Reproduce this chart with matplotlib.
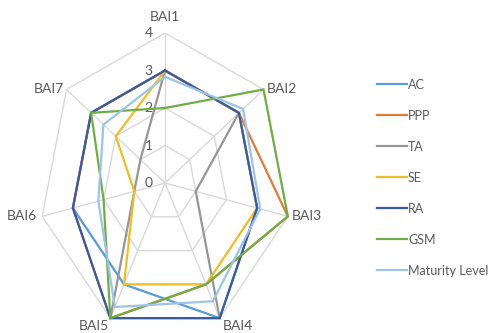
import matplotlib
matplotlib.use("Agg")
import matplotlib.pyplot as plt
import numpy as np

# assessment scores per BAI dimension (0-4 scale)
axes_labels = ["BAI1", "BAI2", "BAI3", "BAI4", "BAI5", "BAI6", "BAI7"]
series_names = ["AC", "PPP", "TA", "SE", "RA", "GSM", "Maturity Level"]
ac = [3, 3, 3, 4, 3, 3, 3]
ppp = [3, 3, 4, 3, 4, 3, 3]
ta = [3, 3, 1, 4, 4, 1, 1]
se = [3, 3, 3, 3, 3, 1, 2]
ra = [3, 3, 3, 4, 4, 3, 3]
gsm = [2, 4, 4, 3, 4, 2, 3]
maturity = [2.83, 3.17, 3.1, 3.5, 3.67, 2.17, 2.5]
ring_ticks = [0, 1, 2, 3, 4]

colors = ["#5B9BD5", "#E07B39", "#969696", "#EDBE2A", "#3A5AA0", "#70AD47", "#9DC3E6"]
grid_color = "#D9D9D9"
text_color = "#595959"
plt.rcParams["font.family"] = ["Lato", "DejaVu Sans"]


def main():
    n = len(axes_labels)
    theta = np.pi / 2 - np.arange(n) * 2 * np.pi / n
    closed = np.append(theta, theta[0])

    fig = plt.figure(figsize=(4.92, 3.33), dpi=100)
    ax = fig.add_axes([0.0793, 0.0, 0.5122, 0.9009], projection="polar")
    ax.set_aspect("auto")
    ax.set_ylim(0, 4)
    ax.grid(False)
    ax.spines["polar"].set_visible(False)
    ax.set_xticks([])
    ax.set_yticks([])
    ax.patch.set_alpha(0)

    # heptagon rings and spokes
    for r in ring_ticks[1:]:
        ax.plot(closed, [r] * (n + 1), color=grid_color, lw=1.0, zorder=1)
    for t in theta:
        ax.plot([t, t], [0, 4], color=grid_color, lw=1.0, zorder=1)

    for r in ring_ticks:
        ax.annotate(str(r), xy=(np.pi / 2, r), xytext=(-9, 0), textcoords="offset points",
                    ha="right", va="center", fontsize=10, color=text_color)

    # category labels around the outside
    label_pos = [("center", "bottom", (0, 7)),
                 ("left", "center", (2, 0)),
                 ("left", "center", (3, 0)),
                 ("left", "top", (2, -1)),
                 ("right", "top", (-1, -1)),
                 ("right", "center", (-4, 0)),
                 ("right", "center", (-2, 0))]
    for t, lab, (ha, va, off) in zip(theta, axes_labels, label_pos):
        ax.annotate(lab, xy=(t, 4), xytext=off, textcoords="offset points",
                    ha=ha, va=va, fontsize=10, color=text_color, annotation_clip=False)

    data = [ac, ppp, ta, se, ra, gsm, maturity]
    handles = []
    for name, vals, c in zip(series_names, data, colors):
        v = np.append(vals, vals[0])
        line, = ax.plot(closed, v, color=c, lw=1.6, label=name, zorder=3,
                        solid_joinstyle="miter", clip_on=False)
        handles.append(line)

    fig.legend(handles=handles, loc="upper left", bbox_to_anchor=(0.753, 0.782),
               frameon=False, fontsize=9, handlelength=2.4, handletextpad=0.1,
               labelspacing=1.52, borderpad=0, labelcolor=text_color)

    fig.savefig("out.png", dpi=100)


if __name__ == "__main__":
    main()
